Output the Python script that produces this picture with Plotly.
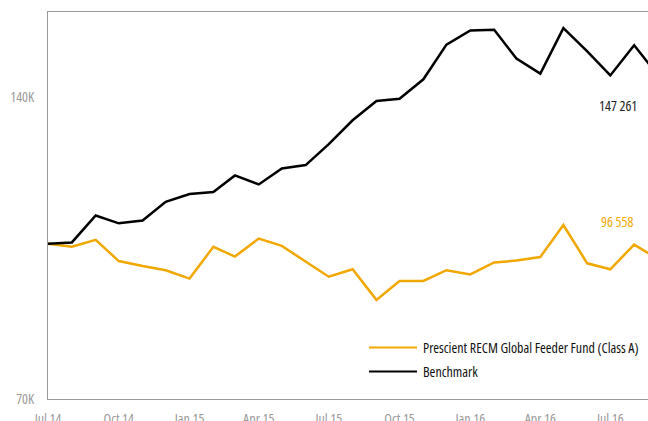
import math
import plotly.graph_objects as go

months = ["2014-07-01", "2014-08-01", "2014-09-01", "2014-10-01", "2014-11-01", "2014-12-01",
          "2015-01-01", "2015-02-01", "2015-03-01", "2015-04-01", "2015-05-01", "2015-06-01",
          "2015-07-01", "2015-08-01", "2015-09-01", "2015-10-01", "2015-11-01", "2015-12-01",
          "2016-01-01", "2016-02-01", "2016-03-01", "2016-04-01", "2016-05-01", "2016-06-01",
          "2016-07-01", "2016-08-01", "2016-09-01"]

fund = [100000, 99300, 100900, 96100, 95000, 94100, 92300, 99300, 97100, 101200, 99500, 95900,
        92700, 94300, 87900, 91800, 91800, 94100, 93200, 95800, 96200, 97000, 104400, 95600,
        94300, 99800, 96558]

benchmark = [100000, 100300, 106700, 104800, 105500, 110100, 112100, 112600, 117000, 114600,
             118900, 119800, 125700, 132800, 138800, 139500, 145900, 158000, 163200, 163500,
             153000, 147800, 164100, 155600, 147200, 157800, 147261]

x_tick_vals = ["2014-07-01", "2014-10-01", "2015-01-01", "2015-04-01", "2015-07-01",
               "2015-10-01", "2016-01-01", "2016-04-01", "2016-07-01"]
x_tick_text = ["Jul 14", "Oct 14", "Jan 15", "Apr 15", "Jul 15", "Oct 15", "Jan 16",
               "Apr 16", "Jul 16"]
y_tick_vals = [70000, 140000]
y_tick_text = ["70K", "140K"]

fund_name = "Prescient RECM Global Feeder Fund (Class A)"
bench_name = "Benchmark"

YELLOW = "#F0A800"
BLACK = "#000000"
GRAY = "#9a9a9a"
FONT = "Open Sans"
FS = 14


def cond(t):
    return f'<span style="font-stretch:75%">{t}</span>'


W, H = 648, 421
ml, mr, mt, mb = 48, 0, 12, 22
pw, ph = W - ml - mr, H - mt - mb


def px_x(x):
    return (x - ml) / pw


def px_y(y):
    return (H - mb - y) / ph


fig = go.Figure()
fig.add_trace(go.Scatter(x=months, y=fund, mode="lines", name=fund_name,
                         line=dict(color=YELLOW, width=2.5)))
fig.add_trace(go.Scatter(x=months, y=benchmark, mode="lines", name=bench_name,
                         line=dict(color=BLACK, width=2.5)))


def fmt(v):
    return f"{v:,}".replace(",", " ")


fig.add_annotation(xref="paper", yref="y", x=px_x(618), y=math.log10(benchmark[-1]),
                   xanchor="center", yanchor="middle",
                   text=cond(fmt(benchmark[-1])), showarrow=False, yshift=-30,
                   font=dict(family=FONT, size=FS, color="#222222"))
fig.add_annotation(xref="paper", yref="y", x=px_x(617), y=math.log10(fund[-1]),
                   xanchor="center", yanchor="middle",
                   text=cond(fmt(fund[-1])), showarrow=False, yshift=37,
                   font=dict(family=FONT, size=FS, color=YELLOW))

# manual legend
legend_items = [(fund_name, YELLOW, 347.5), (bench_name, BLACK, 371.5)]
for name, col, ypx in legend_items:
    yp = px_y(ypx)
    fig.add_shape(type="line", xref="paper", yref="paper",
                  x0=px_x(369), x1=px_x(417), y0=yp, y1=yp,
                  line=dict(color=col, width=2.2))
    fig.add_annotation(xref="paper", yref="paper", x=px_x(421), y=yp,
                       text=cond(name), showarrow=False, xanchor="left", yanchor="middle",
                       font=dict(family=FONT, size=FS, color="#111111"))

fig.update_layout(
    width=W, height=H,
    margin=dict(l=ml, r=mr, t=mt, b=mb),
    paper_bgcolor="white", plot_bgcolor="white",
    showlegend=False,
    font=dict(family=FONT, size=FS, color=GRAY),
)
fig.update_xaxes(type="date", range=["2014-07-01", "2016-08-19"], automargin=False,
                 tickvals=x_tick_vals, ticktext=[cond(t) for t in x_tick_text],
                 showgrid=False, zeroline=False, showline=True, mirror=True,
                 linecolor=GRAY, linewidth=1, ticks="", ticklabelstandoff=7,
                 tickfont=dict(family=FONT, size=FS, color=GRAY))
fig.update_yaxes(type="log", range=[math.log10(70000), math.log10(170300)], automargin=False,
                 tickvals=y_tick_vals, ticktext=[cond(t) for t in y_tick_text],
                 showgrid=False, zeroline=False, showline=True, mirror=False,
                 linecolor=GRAY, linewidth=1, ticks="", ticklabelstandoff=10,
                 tickfont=dict(family=FONT, size=FS, color=GRAY))

fig.write_html(
    "out.html",
    config={"displayModeBar": False},
    post_script="document.body.style.margin='0';"
                "document.documentElement.style.overflow='hidden';"
                "document.body.style.overflow='hidden';",
)
